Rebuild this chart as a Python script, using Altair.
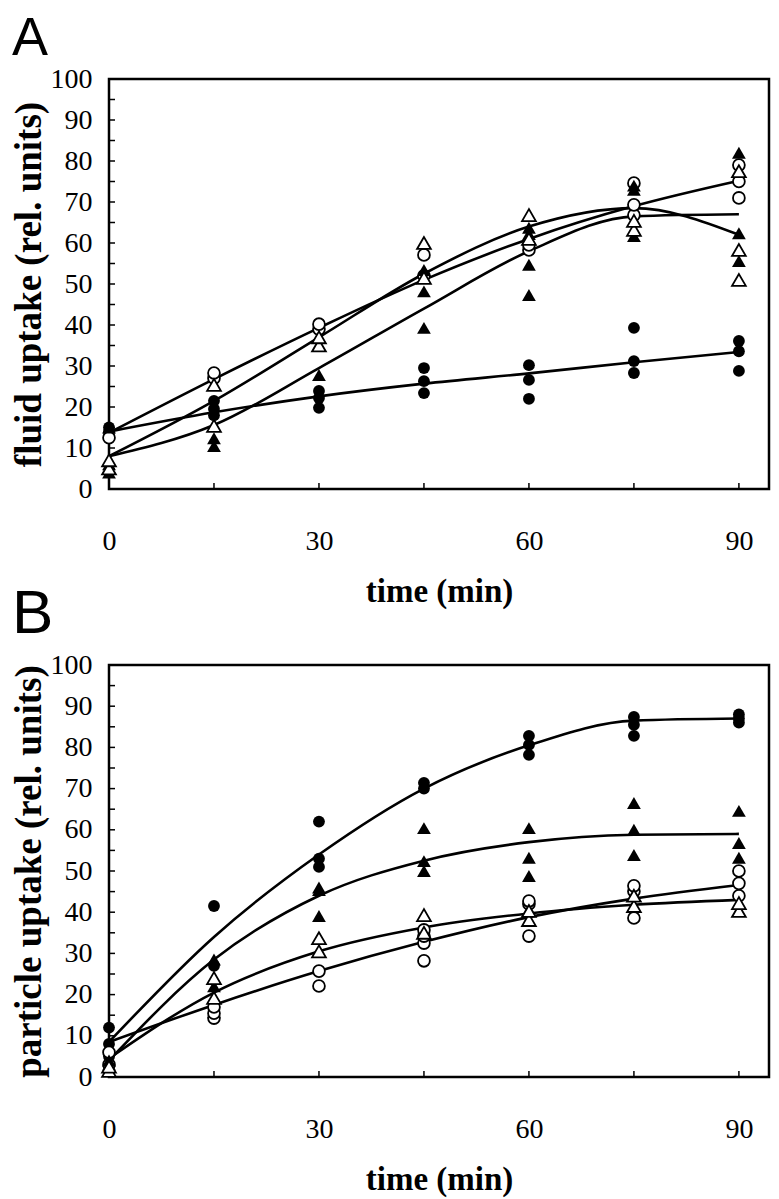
import altair as alt
import pandas as pd

TIMES = [0, 15, 30, 45, 60, 75, 90]
X_LABELS = [0, 30, 60, 90]
Y_LABELS = [0, 10, 20, 30, 40, 50, 60, 70, 80, 90, 100]
X_TICKS = [0, 15, 30, 45, 60, 75, 90]
Y_TICKS = [0, 5, 10, 15, 20, 25, 30, 35, 40, 45, 50, 55, 60, 65, 70, 75, 80, 85, 90, 95, 100]

# Panel A: fluid uptake (replicates per time point)
A_FILLED_CIRCLE = [[13, 14, 15], [18, 19.5, 21.5], [19.8, 22.2, 23.9], [23.4, 26.3, 29.5],
                   [22.0, 26.6, 30.2], [28.3, 31.2, 39.3], [28.8, 33.6, 36.1]]
A_OPEN_CIRCLE = [[12.5], [27, 28.3], [39, 40.2], [52, 57.1], [58.3, 59.5], [66.8, 69.3, 74.6], [71, 75, 79]]
A_FILLED_TRI = [[4, 6, 15], [10.5, 12.4], [27.8], [39.3, 48.2, 53.4], [47.3, 54.7, 62.2, 63.7],
                [61.7, 73, 74], [55.6, 62.4, 82]]
A_OPEN_TRI = [[5, 7], [15.4, 25.4], [35, 37], [51.5, 60], [61, 66.8], [63.2, 65.4], [51, 58.3, 77.5]]

A_FIT_FC = [14, 18.7, 22.6, 25.7, 28.2, 30.9, 33.4]
A_FIT_OC = [13.7, 26.8, 39.3, 51.0, 61.0, 69.0, 75.2]
A_FIT_OT = [8, 21.5, 37, 52.5, 64, 68.5, 62]
A_FIT_FT = [8, 15.6, 29.5, 44, 58, 66.5, 67]

# Panel B: particle uptake
B_FILLED_CIRCLE = [[5, 8, 12], [27, 41.5], [51, 53, 62], [70, 71.4], [78.2, 80.6, 82.8],
                   [82.8, 85.5, 87.4], [86, 87, 88]]
B_FILLED_TRI = [[3, 4], [22, 28.5], [39.1, 45.4, 46], [50, 52.4, 60.4], [48.8, 53.2, 60.4],
                [53.9, 60, 66.5], [53.2, 56.8, 64.6]]
B_OPEN_TRI = [[1.5, 2.5], [19.2, 24], [30.5, 33.7], [35, 39.3], [38.1, 40.3], [41.5, 44], [40.3, 42.2]]
B_OPEN_CIRCLE = [[3, 6], [14.3, 15.5, 17], [22.1, 25.7], [28.2, 32.5, 34.2, 35.7], [34.2, 42, 42.7],
                 [38.6, 45.1, 46.4], [44, 47, 50]]

B_FIT_FC = [8.5, 34, 54, 70, 80.5, 86.5, 87]
B_FIT_FT = [4, 28.5, 44, 52.5, 57, 58.8, 59]
B_FIT_OT = [4.5, 20.5, 30.5, 36.3, 39.7, 41.8, 43.0]
B_FIT_OC = [8.5, 17.5, 25.7, 32.8, 38.8, 43.3, 46.6]

W = 660
X_MAX = 94.3


def enc_x():
    return alt.X("t:Q", scale=alt.Scale(domain=[0, X_MAX], nice=False, zero=False),
                 axis=alt.Axis(values=X_LABELS, title="time (min)", labelPadding=38,
                               titlePadding=20, labelFlush=False))


def enc_y(title):
    return alt.Y("v:Q", scale=alt.Scale(domain=[0, 100], nice=False),
                 axis=alt.Axis(values=Y_LABELS, title=title, labelPadding=17, titlePadding=2))


def points(series, shape, filled, title):
    rows = [{"t": t, "v": v} for t, vals in zip(TIMES, series) for v in vals]
    df = pd.DataFrame(rows)
    size = 140 if shape == "circle" else 190
    m = alt.Chart(df).mark_point(
        shape=shape, filled=True, size=size, opacity=1,
        fill="black" if filled else "white", stroke="black",
        strokeWidth=0 if filled else 1.8)
    return m.encode(x=enc_x(), y=enc_y(title))


def curve(vals, title):
    df = pd.DataFrame({"t": TIMES, "v": vals})
    return alt.Chart(df).mark_line(color="black", strokeWidth=2.6, interpolate="monotone").encode(
        x=enc_x(), y=enc_y(title))


def panel(letter, letter_size, letter_y, height, title, fits, series):
    ytick = alt.Chart(pd.DataFrame({"v": Y_TICKS})).mark_rule(color="black", strokeWidth=1.5).encode(
        y=enc_y(title), x=alt.value(0), x2=alt.value(6))
    xtick = alt.Chart(pd.DataFrame({"t": X_TICKS})).mark_rule(color="black", strokeWidth=1.5).encode(
        x=enc_x(), y=alt.value(height), y2=alt.value(height - 6))
    lab = alt.Chart(pd.DataFrame({"label": [letter]})).mark_text(
        font="Liberation Sans", fontSize=letter_size, align="left", baseline="top", color="black").encode(
        text="label:N", x=alt.value(-97), y=alt.value(letter_y))
    layers = [ytick, xtick] + [curve(f, title) for f in fits]
    layers += [points(s, sh, fl, title) for s, sh, fl in series]
    layers.append(lab)
    return alt.layer(*layers).properties(width=W, height=height)


panel_a = panel("A", 54, -67, 410, "fluid uptake (rel. units)",
                [A_FIT_FC, A_FIT_OC, A_FIT_OT, A_FIT_FT],
                [(A_FILLED_CIRCLE, "circle", True), (A_OPEN_CIRCLE, "circle", False),
                 (A_FILLED_TRI, "triangle-up", True), (A_OPEN_TRI, "triangle-up", False)])
panel_b = panel("B", 62, -81, 412, "particle uptake (rel. units)",
                [B_FIT_FC, B_FIT_FT, B_FIT_OT, B_FIT_OC],
                [(B_FILLED_CIRCLE, "circle", True), (B_OPEN_CIRCLE, "circle", False),
                 (B_FILLED_TRI, "triangle-up", True), (B_OPEN_TRI, "triangle-up", False)])

chart = alt.vconcat(panel_a, panel_b, spacing=176, bounds="flush").properties(
    padding={"left": 0, "top": 2, "right": 0, "bottom": 0}
).configure_view(stroke="black", strokeWidth=2.5).configure_axis(
    domain=False, grid=False, ticks=False,
    labelFont="Liberation Serif", labelFontSize=28, labelColor="black",
    titleFont="Liberation Serif", titleFontWeight="bold", titleColor="black"
).configure_axisX(titleFontSize=33).configure_axisY(titleFontSize=37).configure_scale(zero=False)

chart.save("out.html", embed_options={"renderer": "svg", "actions": False})
